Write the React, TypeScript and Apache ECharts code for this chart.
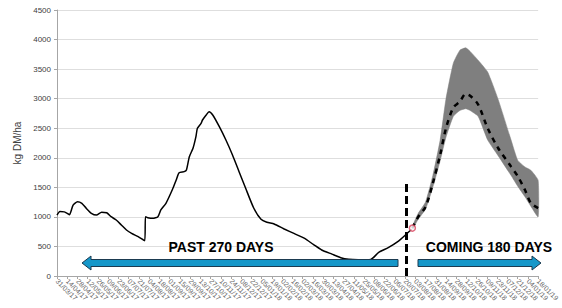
import React, { useEffect, useRef } from "react";
import * as echarts from "echarts";

// X tick labels, every 14 days starting 31/03/17 (day 0)
const tickLabels = [
  "31/03/17", "14/04/17", "28/04/17", "12/05/17", "26/05/17", "09/06/17", "23/06/17", "07/07/17",
  "21/07/17", "04/08/17", "18/08/17", "01/09/17", "15/09/17", "29/09/17", "13/10/17", "27/10/17",
  "10/11/17", "24/11/17", "08/12/17", "22/12/17", "05/01/18", "19/01/18", "02/02/18", "16/02/18",
  "02/03/18", "16/03/18", "30/03/18", "13/04/18", "27/04/18", "11/05/18", "25/05/18", "08/06/18",
  "22/06/18", "06/07/18", "20/07/18", "03/08/18", "17/08/18", "31/08/18", "14/09/18", "28/09/18",
  "12/10/18", "26/10/18", "09/11/18", "23/11/18", "07/12/18", "21/12/18", "04/01/19", "18/01/19",
];

// Past growth (day offset from 31/03/17, kg DM/ha)
const pastDays = [
  0, 4, 10, 14, 17, 22, 28, 34, 40, 47, 54, 61, 68, 74, 81, 88, 95, 102, 111, 120,
  121, 124, 131, 138, 142, 149, 158, 163, 167, 174, 177, 181, 186, 190, 192, 197, 199, 204, 208, 213,
  222, 231, 240, 249, 258, 269, 279, 287, 297, 310, 324, 338, 351, 362, 376, 388, 399, 412, 429, 440,
  453, 467, 478, 485,
];
const pastValues = [
  1030, 1090, 1085, 1060, 1035, 1200, 1257, 1230, 1145, 1060, 1030, 1077, 1070, 1003, 947, 863, 778, 722, 665, 597,
  1003, 987, 975, 1003, 1117, 1230, 1467, 1624, 1748, 1765, 1793, 2018, 2160, 2357, 2498, 2583, 2639, 2724, 2780, 2724,
  2526, 2300, 2047, 1765, 1484, 1150, 960, 910, 880, 800, 720, 640, 530, 440, 370, 310, 282, 275, 280, 400,
  480, 590, 710, 790,
];

// Forecast (coming 180 days)
const forecastDays = [486, 494, 504, 514, 524, 532, 542, 551, 559, 565, 576, 589, 603, 621, 630, 640, 648, 658];
const forecastLower = [790, 960, 1130, 1500, 1950, 2350, 2700, 2800, 2830, 2800, 2700, 2300, 2040, 1700, 1520, 1340, 1180, 1000];
const forecastMedian = [810, 1000, 1170, 1570, 2050, 2500, 2850, 2950, 3080, 3050, 2900, 2500, 2170, 1850, 1690, 1455, 1235, 1150];
const forecastUpper = [840, 1060, 1250, 1700, 2300, 3000, 3600, 3820, 3860, 3800, 3650, 3450, 3000, 2300, 1960, 1844, 1790, 1620];

const todayDay = 478;
const todayLineTop = 1570;
const startPoint = [486, 810];

const FONT = "Liberation Sans, Arial, sans-serif";

export default function App() {
  const ref = useRef<HTMLDivElement>(null);

  useEffect(() => {
    if (!ref.current) return;
    const chart = echarts.init(ref.current, null, { renderer: "svg" });

    const pastData = pastDays.map((d, i) => [d, pastValues[i]]);
    const medianData = forecastDays.map((d, i) => [d, forecastMedian[i]]);

    const option: any = {
      animation: false,
      textStyle: { fontFamily: FONT },
      grid: { left: 57, right: 21, top: 10, bottom: 32 },
      xAxis: {
        type: "value",
        min: 0,
        max: 658,
        interval: 14,
        axisLine: { show: true, lineStyle: { color: "#a6a6a6", width: 1 } },
        axisTick: { show: true, length: 3, lineStyle: { color: "#a6a6a6" } },
        splitLine: { show: false },
        axisLabel: {
          rotate: -45,
          fontSize: 7,
          color: "#666666",
          margin: 4,
          fontFamily: FONT,
          formatter: (v: number) => tickLabels[Math.round(v / 14)] ?? "",
        },
      },
      yAxis: {
        type: "value",
        min: 0,
        max: 4500,
        interval: 500,
        name: "kg DM/ha",
        nameLocation: "middle",
        nameGap: 26,
        nameTextStyle: { fontSize: 10, color: "#404040", fontFamily: FONT },
        axisLine: { show: true, lineStyle: { color: "#a6a6a6" } },
        axisTick: { show: true, length: 3, lineStyle: { color: "#a6a6a6" } },
        splitLine: { show: true, lineStyle: { color: "#dedede", width: 1 } },
        axisLabel: {
          fontSize: 8,
          color: "#404040",
          margin: 6,
          fontFamily: FONT,
          formatter: (v: number) => String(v),
        },
      },
      series: [
        {
          type: "custom",
          name: "band",
          silent: true,
          z: 1,
          data: [[0, 0]],
          renderItem: (_params: any, api: any) => {
            const pts: number[][] = [];
            for (let i = 0; i < forecastDays.length; i++) {
              pts.push(api.coord([forecastDays[i], forecastUpper[i]]));
            }
            for (let i = forecastDays.length - 1; i >= 0; i--) {
              pts.push(api.coord([forecastDays[i], forecastLower[i]]));
            }
            return {
              type: "polygon",
              shape: { points: pts, smooth: 0.15 },
              style: { fill: "#7f7f7f", stroke: "#7f7f7f", lineWidth: 0.5 },
            };
          },
        },
        {
          type: "line",
          name: "past",
          data: pastData,
          showSymbol: false,
          symbol: "none",
          smooth: 0.2,
          z: 3,
          lineStyle: { color: "#000000", width: 1.5 },
        },
        {
          type: "line",
          name: "median",
          data: medianData,
          showSymbol: false,
          symbol: "none",
          smooth: 0.3,
          z: 4,
          lineStyle: { color: "#000000", width: 2.5, type: [5, 5] },
        },
        {
          type: "line",
          name: "today",
          data: [
            [todayDay, 0],
            [todayDay, todayLineTop],
          ],
          showSymbol: false,
          symbol: "none",
          z: 5,
          lineStyle: { color: "#000000", width: 3, type: [8, 4] },
        },
        {
          type: "scatter",
          name: "start",
          data: [startPoint],
          symbol: "circle",
          symbolSize: 6,
          z: 6,
          itemStyle: { color: "#ffffff", borderColor: "#d9455f", borderWidth: 1.5 },
        },
      ],
      graphic: [
        {
          type: "polygon",
          z: 100,
          shape: {
            points: [
              [82, 263], [91, 256], [91, 259.5], [398, 259.5], [398, 266.5], [91, 266.5], [91, 270],
            ],
          },
          style: { fill: "#1597c9", stroke: "#1b3a50", lineWidth: 1 },
        },
        {
          type: "polygon",
          z: 100,
          shape: {
            points: [
              [418, 259.5], [532, 259.5], [532, 256], [541, 263], [532, 270], [532, 266.5], [418, 266.5],
            ],
          },
          style: { fill: "#1597c9", stroke: "#1b3a50", lineWidth: 1 },
        },
        {
          type: "text",
          z: 100,
          x: 221,
          y: 247,
          style: {
            text: "PAST 270 DAYS",
            fontSize: 14,
            fontWeight: "bold",
            fontFamily: FONT,
            fill: "#000000",
            align: "center",
            verticalAlign: "middle",
          },
        },
        {
          type: "text",
          z: 100,
          x: 489,
          y: 247,
          style: {
            text: "COMING 180 DAYS",
            fontSize: 14,
            fontWeight: "bold",
            fontFamily: FONT,
            fill: "#000000",
            align: "center",
            verticalAlign: "middle",
          },
        },
      ],
    };

    chart.setOption(option);
    return () => chart.dispose();
  }, []);

  return (
    <div
      ref={ref}
      style={{ position: "fixed", left: 0, top: 0, width: 562, height: 308, background: "#ffffff" }}
    />
  );
}
